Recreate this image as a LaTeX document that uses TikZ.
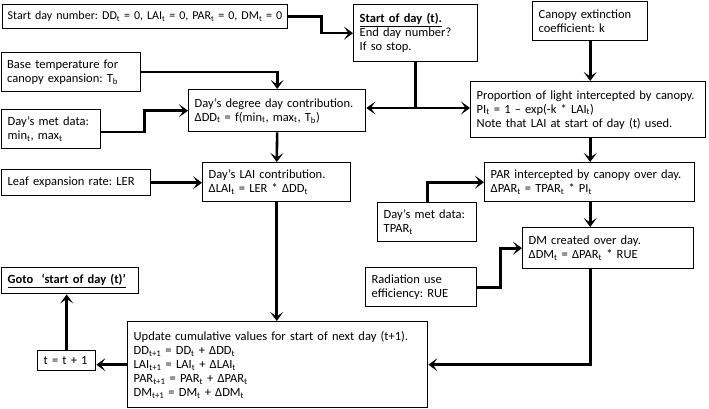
\documentclass[tikz,border=0pt]{standalone}
\usepackage{fontspec}
\setmainfont[WordSpace=0.8]{Carlito}
\usetikzlibrary{arrows.meta}
\newcommand{\sbs}[1]{\textsubscript{#1}}
\frenchspacing
\begin{document}
\begin{tikzpicture}[x=1pt,y=-1pt,
	box/.style={draw, line width=1.4pt, rectangle, align=left, anchor=north west,
		inner xsep=6pt, inner ysep=2pt,
		font=\fontsize{12.5}{14}\selectfont},
	conn/.style={line width=2.6pt},
	arr/.style={conn, -{Stealth[length=9pt,width=13pt,inset=4.5pt]}}]
	\useasboundingbox (0,0) rectangle (709,409);
	
	% left column
	\node[box, text width=275pt, inner xsep=5pt, minimum height=24pt,
		font=\fontsize{12}{14}\selectfont] (start) at (2,4)
		{\mbox{Start day number: DD\sbs{t} = 0, LAI\sbs{t} = 0, PAR\sbs{t} = 0, DM\sbs{t} = 0}};
	\node[box, text width=128pt, inner xsep=5.5pt, minimum height=39pt] (base) at (1,52)
		{Base temperature for\\canopy expansion: T\sbs{b}};
	\node[box, text width=87pt, minimum height=39pt] (met1) at (1,109)
		{Day’s met data:\\min\sbs{t}, max\sbs{t}};
	\node[box, text width=137pt, minimum height=26pt] (leaf) at (1,169)
		{Leaf expansion rate: LER};
	\node[box, text width=125pt, minimum height=26pt] (goto) at (1,267)
		{\underline{\textbf{Goto\ \ ‘start of day (t)’}}};
	\node[box, text width=46pt, minimum height=20pt] (tinc) at (37,350)
		{t = t + 1};
	
	% middle column
	\node[box, text width=112pt, minimum height=57pt] (sod) at (353,4)
		{\underline{\textbf{Start of day (t).}}\\End day number?\\If so stop.};
	\node[box, text width=165pt, minimum height=42pt] (ddc) at (188,89)
		{Day’s degree day contribution.\\ΔDD\sbs{t} = f(min\sbs{t}, max\sbs{t}, T\sbs{b})};
	\node[box, text width=136pt, minimum height=39pt] (lai) at (202,162)
		{Day’s LAI contribution.\\ΔLAI\sbs{t} = LER * ΔDD\sbs{t}};
	\node[box, text width=288pt, minimum height=86pt] (upd) at (127,321)
		{Update cumulative values for start of next day (t+1).\\
		DD\sbs{t+1} = DD\sbs{t} + ΔDD\sbs{t}\\
		LAI\sbs{t+1} = LAI\sbs{t} + ΔLAI\sbs{t}\\
		PAR\sbs{t+1} = PAR\sbs{t} + ΔPAR\sbs{t}\\
		DM\sbs{t+1} = DM\sbs{t} + ΔDM\sbs{t}};
	
	% right column
	\node[box, text width=103pt, minimum height=39pt] (canopy) at (532,1)
		{Canopy extinction\\coefficient: k};
	\node[box, text width=223pt, minimum height=56pt] (pli) at (470,81)
		{Proportion of light intercepted by canopy.\\PI\sbs{t} = 1 – exp(-k * LAI\sbs{t})\\Note that LAI at start of day (t) used.};
	\node[box, text width=198pt, minimum height=39pt] (par) at (484,162)
		{PAR intercepted by canopy over day.\\ΔPAR\sbs{t} = TPAR\sbs{t} * PI\sbs{t}};
	\node[box, text width=87pt, minimum height=39pt] (met2) at (377,202)
		{Day’s met data:\\TPAR\sbs{t}};
	\node[box, text width=159pt, minimum height=41pt] (dm) at (522,227)
		{DM created over day.\\ΔDM\sbs{t} = ΔPAR\sbs{t} * RUE};
	\node[box, text width=99pt, minimum height=39pt] (rue) at (365,267)
		{Radiation use\\efficiency: RUE};
	
	\coordinate (sodjoin) at (sod.south |- 0,108);
	\coordinate (dmout) at (canopy.south |- dm.south);
	
	\draw[arr] (start.east) -- ++(33,0) |- (sod.west);
	\draw[conn] (sod.south) -- (sodjoin);
	\draw[arr] (sodjoin) -- (sodjoin -| ddc.east);
	\draw[arr] (sodjoin) -- (sodjoin -| pli.west);
	\draw[arr] (base.east) -| (ddc.north);
	\draw[arr] (met1.east) ++(0,3) -- ++(43,0) |- (ddc.west);
	\draw[arr] (ddc.south) -- (lai.north);
	\draw[arr] (leaf.east) -- (leaf.east -| lai.west);
	\draw[arr] (lai.south) -- (lai.south |- upd.north);
	\draw[arr] (canopy.south) -- (canopy.south |- pli.north);
	\draw[arr] (canopy.south |- pli.south) -- (canopy.south |- par.north);
	\draw[arr] (met2.north) |- (par.west);
	\draw[arr] (canopy.south |- par.south) -- (canopy.south |- dm.north);
	\draw[arr] (rue.east) -- ++(23,0) |- (dm.west);
	\draw[arr] (dmout) |- (upd.east);
	\draw[arr] (upd.west) -- (upd.west -| tinc.east);
	\draw[arr] (tinc.north) -- (tinc.north |- goto.south);
\end{tikzpicture}
\end{document}
